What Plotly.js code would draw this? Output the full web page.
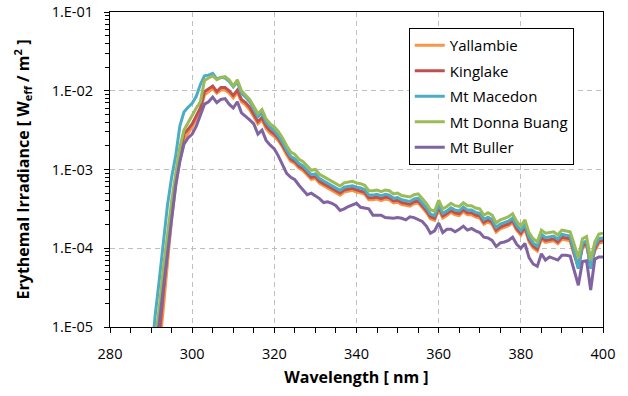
<!DOCTYPE html>
<html>
<head>
<meta charset="utf-8">
<script src="https://cdn.plot.ly/plotly-3.0.1.min.js"></script>
<style>html,body{margin:0;padding:0;background:#fff;}#chart{width:628px;height:396px;}</style>
</head>
<body>
<div id="chart"></div>
<script>
const wavelength = [290,291,292,293,294,295,296,297,298,299,300,301,302,303,304,305,306,307,308,309,310,311,312,313,314,315,316,317,318,319,320,321,322,323,324,325,326,327,328,329,330,331,332,333,334,335,336,337,338,339,340,341,342,343,344,345,346,347,348,349,350,351,352,353,354,355,356,357,358,359,360,361,362,363,364,365,366,367,368,369,370,371,372,373,374,375,376,377,378,379,380,381,382,383,384,385,386,387,388,389,390,391,392,393,394,395,396,397,398,399,400];

const yallambie = [1.12e-6,2.24e-6,5.01e-6,1.78e-5,7.08e-5,2.40e-4,6.31e-4,1.32e-3,2.40e-3,2.88e-3,3.47e-3,4.37e-3,5.62e-3,8.91e-3,9.77e-3,1.07e-2,9.33e-3,1.02e-2,1.02e-2,9.33e-3,8.13e-3,9.55e-3,7.24e-3,6.61e-3,5.75e-3,4.68e-3,3.80e-3,4.27e-3,3.31e-3,2.88e-3,2.63e-3,
2.32e-3,1.93e-3,1.53e-3,1.27e-3,1.19e-3,1.04e-3,9.66e-4,8.59e-4,7.49e-4,7.67e-4,6.68e-4,6.24e-4,5.82e-4,5.55e-4,5.18e-4,4.73e-4,5.18e-4,5.31e-4,5.43e-4,5.18e-4,5.07e-4,4.84e-4,4.12e-4,4.12e-4,4.22e-4,4.03e-4,4.22e-4,4.12e-4,3.76e-4,3.84e-4,
3.59e-4,3.51e-4,3.43e-4,3.67e-4,3.76e-4,3.28e-4,2.85e-4,2.37e-4,2.26e-4,3.12e-4,2.42e-4,2.60e-4,2.85e-4,2.66e-4,2.60e-4,2.91e-4,2.66e-4,2.66e-4,2.49e-4,2.42e-4,
2.02e-4,2.16e-4,2.02e-4,1.60e-4,1.76e-4,1.84e-4,1.93e-4,2.11e-4,1.68e-4,1.46e-4,1.76e-4,1.21e-4,1.01e-4,9.20e-5,1.30e-4,1.19e-4,1.21e-4,1.24e-4,1.14e-4,1.30e-4,
1.27e-4,1.24e-4,8.2e-5,6.0e-5,1.01e-4,1.08e-4,6.0e-5,9.20e-5,1.16e-4,1.19e-4];

const kinglake = [1.78e-6,3.55e-6,7.94e-6,2.82e-5,1.00e-4,3.16e-4,7.94e-4,1.58e-3,2.82e-3,3.24e-3,3.80e-3,4.79e-3,6.03e-3,9.77e-3,1.05e-2,1.15e-2,9.77e-3,1.10e-2,1.10e-2,1.00e-2,8.71e-3,1.02e-2,7.76e-3,7.08e-3,6.17e-3,5.01e-3,4.07e-3,4.57e-3,3.55e-3,3.09e-3,2.82e-3,
2.46e-3,2.04e-3,1.63e-3,1.35e-3,1.26e-3,1.10e-3,1.02e-3,9.11e-4,7.94e-4,8.13e-4,7.08e-4,6.61e-4,6.17e-4,5.89e-4,5.50e-4,5.02e-4,5.50e-4,5.63e-4,5.76e-4,5.50e-4,5.37e-4,5.13e-4,4.37e-4,4.37e-4,4.47e-4,4.27e-4,4.47e-4,4.37e-4,3.98e-4,4.07e-4,
3.80e-4,3.72e-4,3.63e-4,3.89e-4,3.98e-4,3.47e-4,3.02e-4,2.51e-4,2.40e-4,3.31e-4,2.57e-4,2.76e-4,3.02e-4,2.82e-4,2.76e-4,3.09e-4,2.82e-4,2.82e-4,2.63e-4,2.57e-4,
2.14e-4,2.29e-4,2.14e-4,1.70e-4,1.86e-4,1.95e-4,2.04e-4,2.24e-4,1.78e-4,1.55e-4,1.86e-4,1.28e-4,1.07e-4,9.76e-5,1.38e-4,1.26e-4,1.28e-4,1.32e-4,1.20e-4,1.38e-4,
1.35e-4,1.32e-4,8.5e-5,5.6e-5,1.07e-4,1.15e-4,5.8e-5,9.76e-5,1.23e-4,1.26e-4];

const mtMacedon = [3.55e-6,1.41e-5,3.98e-5,1.26e-4,3.55e-4,7.94e-4,1.51e-3,3.55e-3,5.37e-3,6.17e-3,6.92e-3,8.51e-3,1.20e-2,1.55e-2,1.58e-2,1.66e-2,1.41e-2,1.48e-2,1.45e-2,1.32e-2,1.12e-2,1.29e-2,9.33e-3,8.32e-3,7.24e-3,5.89e-3,4.68e-3,5.25e-3,3.98e-3,3.47e-3,3.09e-3,
2.66e-3,2.21e-3,1.76e-3,1.46e-3,1.36e-3,1.19e-3,1.11e-3,9.86e-4,8.60e-4,8.80e-4,7.66e-4,7.15e-4,6.68e-4,6.37e-4,5.95e-4,5.43e-4,5.95e-4,6.09e-4,6.23e-4,5.95e-4,5.82e-4,5.55e-4,4.73e-4,4.73e-4,4.84e-4,4.62e-4,4.84e-4,4.73e-4,4.31e-4,4.41e-4,
4.12e-4,4.02e-4,3.93e-4,4.22e-4,4.31e-4,3.76e-4,3.27e-4,2.72e-4,2.60e-4,3.58e-4,2.78e-4,2.98e-4,3.27e-4,3.05e-4,2.98e-4,3.34e-4,3.05e-4,3.05e-4,2.85e-4,2.78e-4,
2.31e-4,2.48e-4,2.31e-4,1.84e-4,2.02e-4,2.11e-4,2.21e-4,2.42e-4,1.93e-4,1.68e-4,2.02e-4,1.39e-4,1.16e-4,1.06e-4,1.50e-4,1.36e-4,1.39e-4,1.43e-4,1.30e-4,1.50e-4,
1.46e-4,1.43e-4,9.0e-5,5.5e-5,1.16e-4,1.24e-4,5.5e-5,1.06e-4,1.33e-4,1.36e-4];

const mtDonnaBuang = [2.51e-6,6.31e-6,1.78e-5,5.62e-5,1.58e-4,3.98e-4,8.91e-4,1.91e-3,3.16e-3,3.98e-3,5.01e-3,6.03e-3,7.24e-3,1.35e-2,1.45e-2,1.55e-2,1.38e-2,1.48e-2,1.51e-2,1.38e-2,1.15e-2,1.38e-2,1.00e-2,8.91e-3,7.76e-3,6.31e-3,5.13e-3,5.75e-3,4.37e-3,3.80e-3,3.47e-3,
3.02e-3,2.51e-3,2.00e-3,1.66e-3,1.55e-3,1.35e-3,1.26e-3,1.12e-3,9.77e-4,1.00e-3,8.71e-4,8.13e-4,7.59e-4,7.24e-4,6.76e-4,6.17e-4,6.76e-4,6.92e-4,7.08e-4,6.76e-4,6.61e-4,6.31e-4,5.37e-4,5.37e-4,5.50e-4,5.25e-4,5.50e-4,5.37e-4,4.90e-4,5.01e-4,
4.68e-4,4.57e-4,4.47e-4,4.79e-4,4.90e-4,4.27e-4,3.72e-4,3.09e-4,2.95e-4,4.07e-4,3.16e-4,3.39e-4,3.72e-4,3.47e-4,3.39e-4,3.80e-4,3.47e-4,3.47e-4,3.24e-4,3.16e-4,
2.63e-4,2.82e-4,2.63e-4,2.09e-4,2.29e-4,2.40e-4,2.51e-4,2.75e-4,2.19e-4,1.91e-4,2.29e-4,1.58e-4,1.32e-4,1.20e-4,1.70e-4,1.55e-4,1.58e-4,1.62e-4,1.48e-4,1.70e-4,
1.66e-4,1.62e-4,1.12e-4,7.59e-5,1.32e-4,1.41e-4,7.08e-5,1.20e-4,1.51e-4,1.55e-4];

const mtBuller = [2.51e-6,5.01e-6,1.12e-5,3.16e-5,8.91e-5,2.51e-4,6.31e-4,1.26e-3,2.09e-3,2.51e-3,2.82e-3,3.55e-3,5.01e-3,6.76e-3,7.24e-3,8.32e-3,7.08e-3,7.76e-3,7.94e-3,6.76e-3,6.03e-3,7.24e-3,5.25e-3,4.79e-3,4.27e-3,3.80e-3,2.82e-3,3.16e-3,2.34e-3,2.04e-3,1.82e-3,
1.48e-3,1.17e-3,8.91e-4,7.94e-4,7.41e-4,6.31e-4,5.50e-4,4.79e-4,5.01e-4,4.68e-4,4.27e-4,3.80e-4,3.89e-4,3.72e-4,3.47e-4,3.02e-4,3.16e-4,3.39e-4,3.55e-4,3.72e-4,3.31e-4,3.24e-4,3.16e-4,2.63e-4,2.63e-4,2.63e-4,2.45e-4,2.40e-4,2.40e-4,2.45e-4,
2.40e-4,2.29e-4,2.51e-4,2.45e-4,2.34e-4,2.19e-4,1.91e-4,1.55e-4,1.66e-4,2.09e-4,1.58e-4,1.74e-4,1.74e-4,1.62e-4,1.74e-4,1.91e-4,1.70e-4,1.78e-4,1.66e-4,1.58e-4,
1.38e-4,1.35e-4,1.26e-4,1.05e-4,1.17e-4,1.20e-4,1.26e-4,1.38e-4,1.12e-4,1.00e-4,1.15e-4,7.59e-5,6.31e-5,5.89e-5,8.51e-5,7.08e-5,7.76e-5,7.41e-5,7.08e-5,8.13e-5,
8.13e-5,7.94e-5,5.01e-5,3.39e-5,6.76e-5,6.92e-5,2.95e-5,7.24e-5,7.76e-5,7.76e-5];

const seriesNames = ["Yallambie","Kinglake","Mt Macedon","Mt Donna Buang","Mt Buller"];
const seriesValues = [yallambie, kinglake, mtMacedon, mtDonnaBuang, mtBuller];
const seriesColors = ["#F79646","#C0504D","#4BACC6","#9BBB59","#8064A2"];
const yTickVals = [1e-5,1e-4,1e-3,1e-2,1e-1];
const yTickText = ["1.E-05","1.E-04","1.E-03","1.E-02","1.E-01"];

// minor tick positions (2..9 in each decade)
const yMinorVals = [];
for (let e = -5; e < -1; e++) {
  for (let m = 2; m <= 9; m++) yMinorVals.push(m * Math.pow(10, e));
}

const traces = seriesNames.map((name, i) => ({
  type: "scatter", mode: "lines", name: name,
  x: wavelength, y: seriesValues[i],
  legendgroup: "g" + i,
  line: {color: seriesColors[i], width: 3}
}));

const font = "'Open Sans', 'Noto Sans', sans-serif";
const layout = {
  width: 628, height: 396,
  margin: {l: 110, r: 25, t: 12, b: 69},
  paper_bgcolor: "#fff", plot_bgcolor: "#fff",
  font: {family: font, size: 14.5, color: "#000"},
  showlegend: true,
  legend: {
    x: 0.606, y: 0.949, xanchor: "left", yanchor: "top",
    bgcolor: "#fff", bordercolor: "#000", borderwidth: 1,
    font: {family: font, size: 15, color: "#000"},
    tracegroupgap: 3, itemwidth: 30, traceorder: "grouped"
  },
  xaxis: {
    range: [280, 400], tick0: 280, dtick: 20,
    showline: true, linecolor: "#000", linewidth: 1, mirror: true,
    ticks: "outside", ticklen: 5, tickcolor: "#000",
    ticklabelstandoff: 9,
    showgrid: true, gridcolor: "#BFBFBF", gridwidth: 1, griddash: "5px,4px",
    zeroline: false,
    minor: {dtick: 5, tick0: 280, ticks: "outside", ticklen: 5, tickcolor: "#000", showgrid: false},
    title: {text: "<b>Wavelength [ nm ]</b>", font: {family: font, size: 16}, standoff: 9}
  },
  yaxis: {
    type: "log", range: [-5, -1],
    tickmode: "array", tickvals: yTickVals, ticktext: yTickText,
    showline: true, linecolor: "#000", linewidth: 1, mirror: true,
    ticks: "outside", ticklen: 5, tickcolor: "#000",
    ticklabelstandoff: 8,
    showgrid: true, gridcolor: "#BFBFBF", gridwidth: 1, griddash: "5px,4px",
    zeroline: false,
    minor: {tickvals: yMinorVals, ticks: "outside", ticklen: 4, tickwidth: 1, tickcolor: "#000", showgrid: false},
    title: {text: "<b>Erythemal Irradiance [ W<sub>eff</sub> / m<sup>2</sup> ]</b>", font: {family: font, size: 16}, standoff: 18}
  }
};

Plotly.newPlot("chart", traces, layout, {displayModeBar: false, staticPlot: true});
</script>
</body>
</html>
